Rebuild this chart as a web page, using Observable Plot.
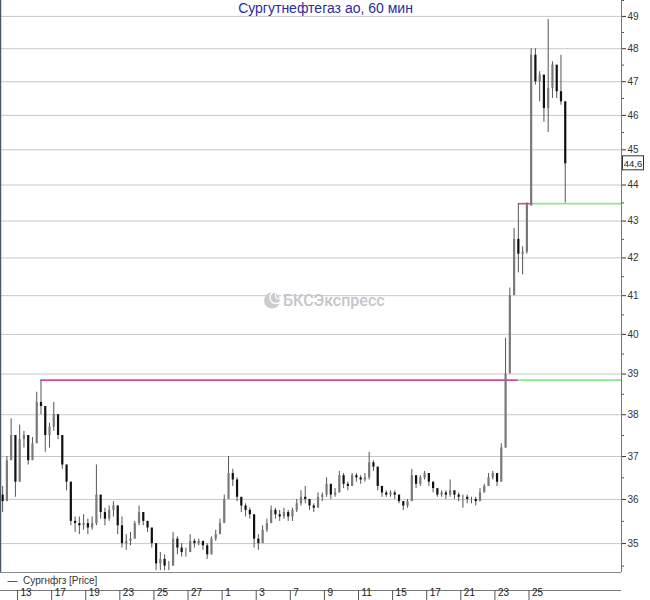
<!DOCTYPE html>
<html>
<head>
<meta charset="utf-8">
<script src="https://cdn.jsdelivr.net/npm/d3@7"></script>
<script src="https://cdn.jsdelivr.net/npm/@observablehq/plot@0.6"></script>
<style>
  html, body { margin: 0; padding: 0; background: #fff; }
  #chart { width: 650px; height: 600px; overflow: hidden; }
</style>
</head>
<body>
<div id="chart"></div>
<script>
// Сургутнефтегаз ао, hourly candles
const title = "Сургутнефтегаз ао, 60 мин";
const seriesName = "Сургнфгз [Price]";
const watermark = "БКСЭкспресс";

const firstOpen = 36.1;
const close = [
  35.95, 36.9, 37.5, 36.4, 37.4, 37.5, 36.9, 37.3, 38.3, 38.2,
  37.5, 37.7, 38.0, 37.5, 36.8, 36.4, 35.5, 35.45, 35.4, 35.45,
  35.35, 35.45, 36.1, 35.7, 35.55, 35.75, 35.85, 35.4, 35.0, 35.05,
  35.1, 35.45, 35.7, 35.5, 35.35, 35.0, 34.55, 34.65, 34.5, 34.5,
  35.1, 34.9, 34.8, 34.8, 35.05, 35.0, 35.05, 34.95, 34.75, 35.1,
  35.2, 35.45, 36.0, 36.6, 36.45, 36.05, 35.85, 35.75, 35.65, 35.1,
  35.0, 35.3, 35.45, 35.75, 35.65, 35.6, 35.7, 35.6, 35.75, 35.9,
  36.05, 36.0, 35.85, 35.8, 36.05, 36.1, 36.35, 36.1, 36.15, 36.55,
  36.35, 36.3, 36.55, 36.5, 36.45, 36.5, 36.85, 36.75, 36.3, 36.15,
  36.1, 36.15, 36.1, 35.95, 35.85, 35.95, 36.55, 36.35, 36.5, 36.6,
  36.4, 36.25, 36.1, 36.15, 36.1, 36.2, 36.1, 36.05, 36.05, 36.0,
  36.0, 35.95, 36.15, 36.3, 36.5, 36.6, 36.4, 37.2, 39.0, 41.0,
  42.5, 42.1, 42.15, 43.45, 47.8, 47.0, 47.2, 46.2, 46.8, 47.5,
  46.7, 46.4, 44.6
];
const high = [
  36.3, 37.0, 37.9, 37.4, 37.75, 37.6, 37.4, 37.45, 38.55, 38.85,
  37.9, 37.8, 38.3, 38.0, 37.5, 36.8, 36.4, 35.6, 35.6, 35.65,
  35.55, 35.6, 36.8, 36.0, 35.8, 35.85, 35.95, 35.85, 35.6, 35.2,
  35.25, 35.5, 35.85, 35.7, 35.5, 35.3, 35.0, 34.8, 34.75, 34.6,
  35.25, 35.15, 35.0, 34.9, 35.2, 35.1, 35.1, 35.05, 35.0, 35.15,
  35.3, 35.55, 36.1, 37.0, 36.7, 36.5, 36.0, 35.9, 35.8, 35.6,
  35.2, 35.4, 35.55, 35.85, 35.8, 35.75, 35.8, 35.75, 35.8, 36.0,
  36.2, 36.3, 36.0, 35.9, 36.15, 36.15, 36.5, 36.35, 36.25, 36.65,
  36.6, 36.4, 36.6, 36.6, 36.55, 36.6, 37.1, 36.9, 36.75, 36.3,
  36.2, 36.2, 36.2, 36.1, 35.95, 36.0, 36.7, 36.5, 36.55, 36.65,
  36.6, 36.4, 36.2, 36.2, 36.2, 36.45, 36.2, 36.15, 36.1, 36.1,
  36.05, 36.05, 36.25, 36.35, 36.6, 36.65, 36.6, 37.3, 39.9, 41.2,
  42.8, 43.48, 42.3, 43.5, 48.0, 48.0, 47.3, 47.1, 48.9, 47.6,
  47.2, 47.8, 46.4
];
const low = [
  35.7, 36.1, 37.0, 36.05, 36.4, 37.2, 36.8, 37.0, 37.6, 38.0,
  37.1, 37.2, 37.6, 37.4, 36.7, 36.2, 35.4, 35.25, 35.2, 35.3,
  35.2, 35.3, 35.4, 35.55, 35.4, 35.5, 35.6, 35.2, 34.9, 34.85,
  34.95, 35.1, 35.4, 35.4, 35.25, 34.9, 34.4, 34.4, 34.4, 34.4,
  34.5, 34.75, 34.7, 34.7, 34.8, 34.9, 34.95, 34.85, 34.65, 34.75,
  35.05, 35.2, 35.45, 36.0, 36.3, 35.95, 35.7, 35.6, 35.55, 34.9,
  34.85, 35.0, 35.25, 35.45, 35.55, 35.5, 35.55, 35.5, 35.5, 35.7,
  35.85, 35.9, 35.75, 35.7, 35.8, 35.95, 36.05, 36.0, 36.05, 36.15,
  36.25, 36.2, 36.3, 36.4, 36.35, 36.4, 36.45, 36.65, 36.2, 36.05,
  36.05, 36.05, 36.0, 35.9, 35.75, 35.8, 35.95, 36.25, 36.3, 36.45,
  36.3, 36.15, 36.05, 36.05, 36.0, 36.05, 36.0, 35.95, 35.8, 35.9,
  35.9, 35.85, 35.95, 36.15, 36.3, 36.45, 36.3, 36.4, 37.2, 39.7,
  41.2, 41.6, 41.55, 42.1, 43.4, 46.9, 46.4, 45.8, 45.5, 46.5,
  46.5, 46.3, 43.5
];

// date labels along the bottom, one every eight bars
const dateLabels = ["13", "17", "19", "23", "25", "27", "1", "3", "7", "9", "11", "15", "17", "21", "23", "25"];
const firstLabelBar = 3.5;
const barsPerLabel = 8;
const lastSlot = 145.2;

const priceTicks = [35, 36, 37, 38, 39, 40, 41, 42, 43, 44, 45, 46, 47, 48, 49];
const priceMinorTicks = [34.5, 35.5, 36.5, 37.5, 38.5, 39.5, 40.5, 41.5, 42.5, 43.5, 44.5, 45.5, 46.5, 47.5, 48.5, 49.5];
const yDomain = [34.36, 49.5];

// horizontal levels: magenta from their anchor bar, green after the switch bar
const levelPrice = [38.85, 43.48];
const levelStart = [9, 121];
const levelSwitch = [121, 124.5];

const candles = close.map((c, i) => ({
  i, open: i === 0 ? firstOpen : close[i - 1], high: high[i], low: low[i], close: c
}));
const dateTicks = dateLabels.map((label, k) => ({label, pos: firstLabelBar + k * barsPerLabel}));
const levels = levelPrice.map((price, k) => ({price, start: levelStart[k], sw: levelSwitch[k], end: lastSlot}));
const lastClose = close[close.length - 1];

const plot = Plot.plot({
  width: 650,
  height: 600,
  marginTop: 0,
  marginLeft: 0,
  marginRight: 29,
  marginBottom: 28,
  style: {fontFamily: "'Liberation Sans', Arial, sans-serif", fontSize: "10px", color: "#333", background: "#fff"},
  x: {domain: [-0.5, lastSlot], axis: null},
  y: {
    type: "log", domain: yDomain, axis: "right", ticks: priceTicks,
    tickFormat: d => String(d), tickSize: 4, tickPadding: 2, label: null
  },
  marks: [
    // grid
    Plot.ruleY(priceTicks, {stroke: "#c8c8c8", strokeWidth: 1}),
    Plot.ruleY(priceMinorTicks, {stroke: "#555", insetLeft: 621, insetRight: -3}),
    // watermark
    Plot.dot([0], {frameAnchor: "middle", dx: -39, dy: 14, r: 8, fill: "#c9ccd0", stroke: "none"}),
    Plot.dot([0], {frameAnchor: "middle", dx: -35, dy: 11, r: 6, fill: "none", stroke: "#fff", strokeWidth: 1.3}),
    Plot.dot([0], {frameAnchor: "middle", dx: -32, dy: 9, r: 3.5, fill: "none", stroke: "#fff", strokeWidth: 1.1}),
    Plot.text([watermark], {
      frameAnchor: "middle", dx: -28, dy: 14, textAnchor: "start",
      fill: "#c3c6ca", fontSize: 16, fontWeight: 500, fontFamily: "Roboto, 'Liberation Sans', sans-serif"
    }),
    // levels
    Plot.ruleY(levels, {y: "price", x1: "start", x2: "sw", stroke: "#d9479b", strokeWidth: 1.6}),
    Plot.ruleY(levels, {y: "price", x1: "sw", x2: "end", stroke: "#8ee68e", strokeWidth: 1.6}),
    // candles
    Plot.ruleX(candles, {x: "i", y1: "low", y2: "high", stroke: "#555", strokeWidth: 1}),
    Plot.ruleX(candles, {
      x: "i", y1: "open", y2: "close", strokeWidth: 2.2,
      stroke: d => d.close < d.open ? "#111" : "#7a7a7a"
    }),
    // frame: left edge, right axis line, bottom edge
    Plot.ruleX([-0.5], {stroke: "#4a5868", strokeWidth: 1.5}),
    Plot.ruleX([lastSlot], {stroke: "#777"}),
    Plot.ruleY([yDomain[0]], {stroke: "#8a8a8a"}),
    // title
    Plot.text([title], {
      frameAnchor: "top", dx: 14.5, dy: 12, lineAnchor: "bottom",
      fill: "#2b2ba0", fontSize: 14
    }),
    // legend
    Plot.text([seriesName], {
      frameAnchor: "bottom-left", dx: 7, dy: 11, textAnchor: "start",
      text: d => "—  " + d, fill: "#333", fontSize: 10
    }),
    // date axis
    Plot.ruleY([yDomain[0]], {dy: 18, stroke: "#777"}),
    Plot.ruleX(dateTicks, {x: "pos", insetTop: 590, insetBottom: -28, stroke: "#555"}),
    Plot.text(dateTicks, {
      x: "pos", text: "label", frameAnchor: "bottom", dy: 23, dx: 3,
      textAnchor: "start", fill: "#222", fontSize: 10
    })
  ]
});

// current price tag on the right axis
const yScale = plot.scale("y");
const yy = yScale.apply(lastClose);
const svg = d3.select(plot);
svg.append("rect")
  .attr("x", 622.5).attr("y", yy - 7.5)
  .attr("width", 21).attr("height", 14)
  .attr("fill", "#fff").attr("stroke", "#333");
svg.append("text")
  .attr("x", 633).attr("y", yy)
  .attr("text-anchor", "middle").attr("dy", "0.35em")
  .attr("font-size", 9.5).attr("fill", "#222")
  .text(lastClose.toFixed(1).replace(".", ","));

document.getElementById("chart").appendChild(plot);
</script>
</body>
</html>
